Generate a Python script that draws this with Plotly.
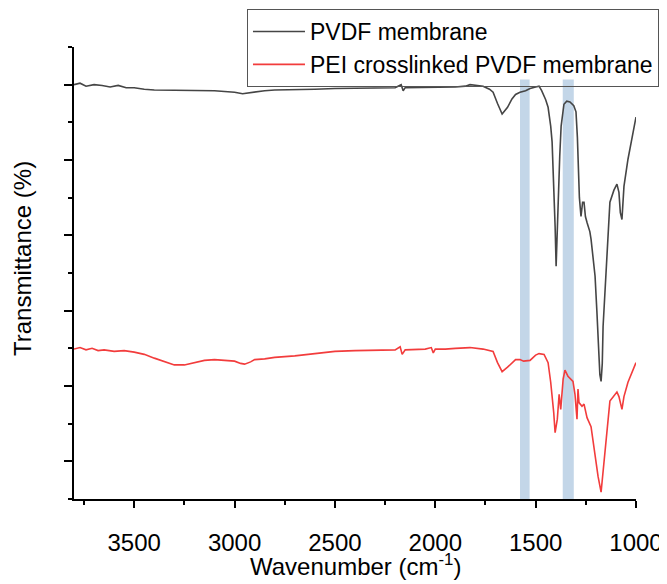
import plotly.graph_objects as go

# ---- data (wavenumber in cm-1, transmittance in arbitrary offset units) ----
pvdf_wn = [3800, 3770, 3740, 3700, 3660, 3620, 3580, 3540, 3500, 3450, 3400, 3350,
           3300, 3250, 3200, 3150, 3100, 3050, 3000, 2960, 2930, 2900, 2850, 2800,
           2700, 2600, 2500, 2400, 2300, 2200, 2170, 2160, 2150, 2100, 2050, 2000,
           1950, 1900, 1850, 1827, 1790, 1762, 1730, 1712, 1690, 1667, 1640, 1618,
           1600, 1578, 1550, 1528, 1500, 1483, 1470, 1450, 1438, 1425, 1418, 1410,
           1403, 1398, 1393, 1388, 1380, 1373, 1365, 1359, 1345, 1329, 1310, 1299,
           1292, 1289, 1282, 1274, 1266, 1259, 1252, 1244, 1230, 1224, 1210, 1204,
           1195, 1189, 1180, 1174, 1168, 1164, 1155, 1144, 1130, 1110, 1095, 1085,
           1078, 1070, 1065, 1060, 1040, 1020, 1000]
pvdf_t = [50.0, 50.2, 49.8, 50.0, 49.9, 49.7, 49.9, 49.6, 49.6, 49.4, 49.3, 49.3,
          49.2, 49.2, 49.2, 49.3, 49.2, 49.1, 49.0, 48.8, 48.9, 49.1, 49.2, 49.3,
          49.3, 49.4, 49.5, 49.5, 49.6, 49.6, 50.0, 49.2, 49.6, 49.6, 49.7, 49.7,
          49.7, 49.7, 49.8, 50.0, 49.9, 49.8, 49.4, 49.0, 47.5, 46.1, 47.0, 48.1,
          48.7, 49.0, 49.2, 49.5, 49.7, 49.8, 49.2, 48.0, 47.0, 44.5, 42.4, 37.0,
          31.2, 25.9, 30.0, 35.7, 40.5, 44.5, 46.5, 47.4, 47.8, 47.7, 47.2, 46.4,
          43.0, 40.1, 35.0, 32.5, 34.4, 34.4, 32.5, 31.7, 30.5, 29.5, 26.5, 24.6,
          20.0, 15.8, 11.5, 10.6, 13.0, 17.9, 22.0, 26.8, 34.4, 36.0, 36.8, 35.7,
          33.0, 32.1, 34.0, 36.5, 40.1, 43.0, 45.7]

pei_wn = [3800, 3770, 3740, 3710, 3680, 3650, 3600, 3550, 3500, 3450, 3400, 3350,
          3300, 3250, 3200, 3150, 3100, 3050, 3000, 2970, 2950, 2920, 2900, 2850,
          2800, 2700, 2600, 2500, 2400, 2300, 2200, 2175, 2165, 2150, 2100, 2050,
          2020, 2010, 2000, 1950, 1900, 1850, 1827, 1762, 1712, 1690, 1667, 1640,
          1600, 1578, 1560, 1528, 1500, 1483, 1458, 1438, 1425, 1410, 1403, 1392,
          1383, 1375, 1368, 1363, 1354, 1339, 1314, 1304, 1294, 1289, 1284, 1269,
          1259, 1244, 1224, 1204, 1189, 1174, 1164, 1144, 1130, 1095, 1085, 1070,
          1060, 1040, 1000]
pei_t = [14.9, 15.1, 14.8, 15.0, 14.7, 14.8, 14.6, 14.7, 14.5, 14.2, 13.7, 13.2,
         12.8, 12.8, 13.1, 13.4, 13.5, 13.4, 13.3, 13.0, 12.9, 13.2, 13.5, 13.6,
         13.8, 14.0, 14.3, 14.6, 14.7, 14.8, 14.8, 15.2, 14.2, 14.8, 14.9, 14.9,
         15.1, 14.4, 14.9, 14.9, 15.0, 15.0, 15.1, 14.9, 14.6, 13.1, 11.9, 12.5,
         13.5, 13.5, 13.3, 13.4, 14.1, 14.3, 14.2, 13.1, 10.5, 6.5, 3.8, 5.6,
         8.9, 6.9, 9.3, 10.9, 12.1, 11.3, 10.6, 8.9, 5.6, 9.6, 7.8, 7.3,
         7.6, 5.8, 4.6, 0.7, -2.0, -4.1, -1.5, 4.2, 8.0, 9.2, 8.6, 6.9,
         8.6, 10.5, 13.1]

series_names = ["PVDF membrane", "PEI crosslinked PVDF membrane"]
band_ranges = [(1530, 1578), (1310, 1365)]
band_top = 50.7
x_ticks = [3500, 3000, 2500, 2000, 1500, 1000]

FONT = "Arial, Liberation Sans, sans-serif"

fig = go.Figure()
fig.add_trace(go.Scatter(x=pvdf_wn, y=pvdf_t, mode="lines", name=series_names[0],
                         line=dict(color="#454545", width=1.6)))
fig.add_trace(go.Scatter(x=pei_wn, y=pei_t, mode="lines", name=series_names[1],
                         line=dict(color="#f23c3c", width=1.6)))

for lo, hi in band_ranges:
    fig.add_shape(type="rect", xref="x", yref="y", x0=lo, x1=hi, y0=-5, y1=band_top,
                  fillcolor="#c3d6e8", line=dict(width=0), layer="below")

# the page body adds an 8px margin, so the figure is 8px smaller and offsets reduced
fig.update_layout(
    width=659, height=576,
    margin=dict(l=66, r=31, t=39, b=85, autoexpand=False),
    paper_bgcolor="white", plot_bgcolor="white",
    font=dict(family=FONT, color="black", size=24),
    showlegend=True,
    legend=dict(x=0.3078, y=1.0841, xanchor="left", yanchor="top",
                bgcolor="rgba(255,255,255,0)", bordercolor="#555555", borderwidth=1,
                font=dict(family=FONT, size=23, color="black"),
                itemwidth=52, tracegroupgap=0),
)
fig.update_xaxes(range=[3800, 1000], autorange=False,
                 tickmode="array", tickvals=x_ticks, ticktext=[str(v) for v in x_ticks],
                 ticks="outside", ticklen=7, tickwidth=1.5, tickcolor="black",
                 minor=dict(dtick=250, tick0=1000, ticks="outside", ticklen=4,
                            tickwidth=1.5, tickcolor="black"),
                 showline=True, linecolor="black", linewidth=1.8,
                 showgrid=False, zeroline=False,
                 tickfont=dict(family=FONT, size=24, color="black"),
                 ticklabelstandoff=14, automargin=False)
fig.update_yaxes(range=[-5, 55], autorange=False,
                 tickmode="linear", tick0=0, dtick=10,
                 ticks="outside", ticklen=8, tickwidth=1.5, tickcolor="black",
                 minor=dict(dtick=5, tick0=0, ticks="outside", ticklen=4,
                            tickwidth=1.5, tickcolor="black"),
                 showticklabels=False,
                 showline=True, linecolor="black", linewidth=1.8,
                 showgrid=False, zeroline=False, automargin=False)

fig.add_annotation(text="Transmittance (%)", xref="paper", yref="paper",
                   x=-0.0907, y=0.531, xanchor="center", yanchor="middle",
                   textangle=-90, showarrow=False,
                   font=dict(family=FONT, size=24, color="black"))
fig.add_annotation(text="Wavenumber (cm<sup>-1</sup>)", xref="paper", yref="paper",
                   x=0.5, y=-0.146, xanchor="center", yanchor="middle",
                   showarrow=False,
                   font=dict(family=FONT, size=24, color="black"))

fig.write_html("out.html")
